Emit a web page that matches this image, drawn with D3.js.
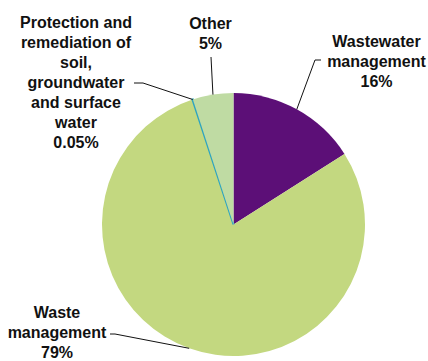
<!DOCTYPE html>
<html>
<head>
<meta charset="utf-8">
<script src="https://d3js.org/d3.v7.min.js"></script>
<style>
    body { margin: 0; background: #fff; }
    svg text { font-family: "Liberation Sans", Arial, sans-serif; font-weight: bold; font-size: 16px; fill: #111; }
</style>
</head>
<body>
<svg id="drawing_region"></svg>
<script>
// data
const categories = ["Wastewater management", "Waste management", "Protection and remediation of soil, groundwater and surface water", "Other"];
const shares = [16, 79, 0.05, 5];
const share_labels = ["16%", "79%", "0.05%", "5%"];
const label_lines = [
    ["Wastewater", "management"],
    ["Waste", "management"],
    ["Protection and", "remediation of", "soil,", "groundwater", "and surface", "water"],
    ["Other"]
];
const colors = ["#5c0f77", "#c3d880", "#2ea4c0", "#bfdba3"];

var config = {
    parent: '#drawing_region',
    width: 428,
    height: 361,
    cx: 233.5,
    cy: 224.5,
    radius: 131.5,
    line_height: 20
};

// label placement: text centre x, first baseline y, leader elbow and end
const label_layout = [
    { x: 376.5, y: 47, elbow: [315, 60], end: [321, 60] },
    { x: 57, y: 318, elbow: [115, 334], end: [110, 334] },
    { x: 76, y: 28, elbow: [143, 83], end: [134, 83] },
    { x: 210.5, y: 29, elbow: null, end: [211, 57] }
];

const data = categories.map( (c, i) => ({
    name: c, value: shares[i], label: share_labels[i], lines: label_lines[i], color: colors[i], layout: label_layout[i]
}));

const svg = d3.select( config.parent )
    .attr('width', config.width)
    .attr('height', config.height);

const chart = svg.append('g')
    .attr('transform', `translate(${config.cx}, ${config.cy})`);

const pie = d3.pie()
    .value( d => d.value )
    .sort( null );

const arc = d3.arc()
    .innerRadius( 0 )
    .outerRadius( config.radius );

const arcs = pie( data );

chart.selectAll('path')
    .data( arcs )
    .enter()
    .append('path')
    .attr('d', arc)
    .attr('fill', d => d.data.color)
    .attr('stroke', d => d.data.value < 1 ? d.data.color : 'none')
    .attr('stroke-width', 2);

// leader lines from the middle of each slice edge
svg.selectAll('polyline')
    .data( arcs )
    .enter()
    .append('polyline')
    .attr('points', d => {
        const a = (d.startAngle + d.endAngle) / 2;
        const p = [config.cx + config.radius * Math.sin(a), config.cy - config.radius * Math.cos(a)];
        const pts = [p];
        if ( d.data.layout.elbow ) pts.push( d.data.layout.elbow );
        pts.push( d.data.layout.end );
        return pts.map( q => q.join(',') ).join(' ');
    })
    .attr('fill', 'none')
    .attr('stroke', '#111')
    .attr('stroke-width', 1);

const labels = svg.selectAll('text.label')
    .data( data )
    .enter()
    .append('text')
    .attr('class', 'label')
    .attr('text-anchor', 'middle');

labels.each( function(d) {
    const t = d3.select(this);
    d.lines.concat([d.label]).forEach( (s, i) => {
        t.append('tspan')
            .attr('x', d.layout.x)
            .attr('y', d.layout.y + i * config.line_height)
            .text( s );
    });
});
</script>
</body>
</html>
